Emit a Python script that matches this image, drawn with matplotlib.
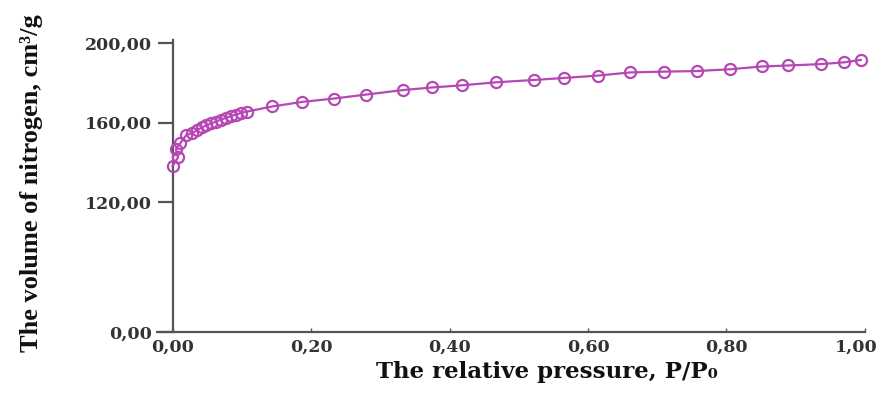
"""Nitrogen adsorption isotherm: volume adsorbed vs relative pressure (broken-ish y scale)."""

import matplotlib

matplotlib.use("Agg")
import matplotlib.pyplot as plt
import matplotlib.transforms as mtransforms
import numpy as np
from matplotlib.ticker import FixedLocator, FuncFormatter

p_rel = [0.000, 0.008, 0.005, 0.011, 0.020, 0.028, 0.035, 0.042, 0.049, 0.056,
         0.063, 0.070, 0.077, 0.084, 0.091, 0.099, 0.107,
         0.144, 0.187, 0.233, 0.279, 0.333, 0.375, 0.418, 0.467, 0.522,
         0.565, 0.614, 0.661, 0.710, 0.757, 0.805, 0.851, 0.889, 0.936,
         0.970, 0.994]
volume = [138.0, 142.4, 146.5, 149.5, 153.7, 154.6, 156.0, 157.5, 158.6, 159.6,
          160.5, 161.5, 162.3, 163.2, 164.0, 164.8, 165.5,
          168.1, 170.4, 172.1, 174.1, 176.4, 177.7, 178.8, 180.3, 181.5,
          182.5, 183.7, 185.3, 185.7, 186.0, 186.9, 188.3, 188.8, 189.5,
          190.4, 191.6]

x_ticks = [0.0, 0.2, 0.4, 0.6, 0.8, 1.0]
y_ticks = [0.0, 120.0, 160.0, 200.0]

_COLOR = "#b548b5"
_AXIS = "#555555"

# The original squeezes 0..120 and stretches 120..200: piecewise-linear y scale.
_BREAK = 120.0
_LOW = 130.0 / 120.0      # screen units per cm3/g below the break
_HIGH = 1.98              # screen units per cm3/g above the break


def _fwd(v):
    v = np.asarray(v, dtype=float)
    return np.where(v < _BREAK, v * _LOW, _BREAK * _LOW + (v - _BREAK) * _HIGH)


def _inv(s):
    s = np.asarray(s, dtype=float)
    b = _BREAK * _LOW
    return np.where(s < b, s / _LOW, _BREAK + (s - b) / _HIGH)


def _comma(v, _pos):
    return f"{v:.2f}".replace(".", ",")


fig = plt.figure(figsize=(8.84, 3.98), dpi=100)
ax = fig.add_axes([0.1776, 0.1666, 0.8009, 0.733])
ax.set_yscale("function", functions=(_fwd, _inv))

ax.plot(p_rel, volume, color=_COLOR, lw=1.6, marker="o", ms=8, mfc="none",
        mec=_COLOR, mew=1.6, clip_on=False, zorder=3)

ax.set_xlim(-0.0224, 1.0)
ax.set_ylim(0, 201.7)

for side in ("top", "right"):
    ax.spines[side].set_visible(False)
ax.spines["left"].set_position(("data", 0))
for side in ("left", "bottom"):
    ax.spines[side].set_color(_AXIS)
    ax.spines[side].set_linewidth(1.6)

ax.xaxis.set_major_locator(FixedLocator(x_ticks))
ax.yaxis.set_major_locator(FixedLocator(y_ticks))
ax.yaxis.set_minor_locator(FixedLocator([]))
ax.xaxis.set_major_formatter(FuncFormatter(_comma))
ax.yaxis.set_major_formatter(FuncFormatter(_comma))

ax.tick_params(axis="y", direction="out", length=11, width=1.6, color=_AXIS, pad=4)
ax.tick_params(axis="x", direction="in", length=3, width=1.0, color=_AXIS, pad=5)
for lab in ax.get_xticklabels() + ax.get_yticklabels():
    lab.set_fontfamily("DejaVu Serif")
    lab.set_fontweight("bold")
    lab.set_fontsize(12.5)
    lab.set_color("#333333")

# the last x label sits a little left of its tick in the original (keeps it inside the figure)
last = ax.get_xticklabels()[-1]
last.set_transform(last.get_transform()
                   + mtransforms.ScaledTranslation(-6 / 72, 0, fig.dpi_scale_trans))

fig.text(547 / 884, 1 - 372 / 398, "The relative pressure, P/P\u2080", ha="center",
         va="center", family="DejaVu Serif", weight="bold", fontsize=16.5, color="#111111")
fig.text(32 / 884, 1 - 183 / 398, "The volume of nitrogen, cm\u00b3/g", ha="center",
         va="center", rotation=90, family="Liberation Serif", weight="bold",
         fontsize=19, color="#111111")

fig.savefig("out.png", dpi=100)
